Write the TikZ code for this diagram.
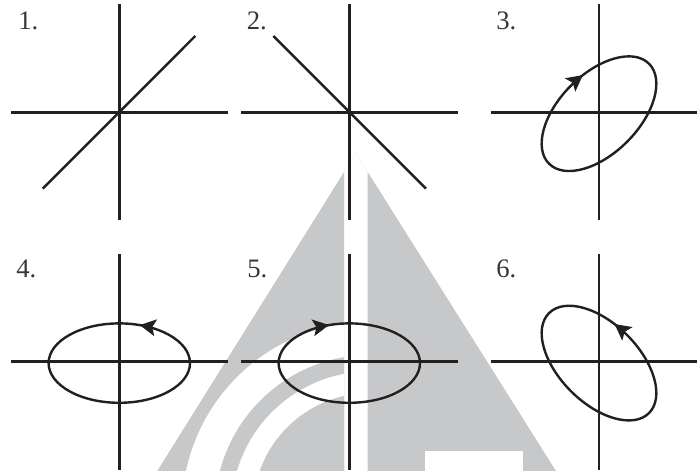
\documentclass[tikz,border=0pt]{standalone}
\usepackage{fontspec}
\setmainfont{Liberation Serif}
\usetikzlibrary{
  arrows.meta,
  decorations.markings
}
\definecolor{ink}{RGB}{35,31,32}
\definecolor{backdrop}{RGB}{199,200,202}

\begin{document}
\begin{tikzpicture}[
  x=0.75pt, y=0.75pt,
  every node/.style={font=\fontsize{20}{20}\selectfont, text=ink!90, inner sep=0pt},
  panellabel/.style={anchor=base west},
  axisline/.style={draw=ink, line width=1.9pt},
  diagline/.style={draw=ink, line width=1.8pt},
  orbit/.style={draw=ink, line width=1.8pt,
    decoration={markings, mark=at position #1 with
      {\arrow{Stealth[length=12pt, width=12.5pt, inset=2.5pt]}}},
    postaction={decorate}}
]

\useasboundingbox (0,0) rectangle (697,471);
\clip (0,0) rectangle (697,471);

% backdrop
\fill[backdrop] (344,299) -- (157.3,0) -- (344,0) -- cycle;
\fill[backdrop] (367.7,299) -- (556,0) -- (367.7,0) -- cycle;
\draw[backdrop!30, line width=0.3pt] (344,299) -- (355.7,318) -- (367.7,299);
\begin{scope}
  \clip (344,299) -- (157.3,0) -- (344,0) -- cycle;
  \fill[white] (370,-39) circle (188);
  \fill[backdrop] (370,-39) circle (155);
  \fill[white] (370,-39) circle (138.5);
  \fill[backdrop] (370,-39) circle (117);
\end{scope}
\fill[white] (425,0) rectangle (523,20);

% axes
\foreach \cx/\cy in {119.3/358.7, 349.3/358.7, 599/358.7, 119.3/109.3, 349.3/109.3, 599/109.3}
  \draw[axisline] (\cx-108.3,\cy) -- (\cx+108.3,\cy)
                  (\cx,\cy-108) -- (\cx,\cy+108);

\draw[diagline] (42.7,282.3) -- (195.3,435);
\draw[diagline] (273.3,435) -- (426,282.3);

\draw[orbit=.295, shift={(599,357.3)}, rotate=45]
  (-70.7,0) arc[start angle=180, end angle=-180, x radius=70.7, y radius=39.7];
\draw[orbit=.192, shift={(119.3,107.9)}]
  (70.7,0) arc[start angle=0, end angle=360, x radius=70.7, y radius=39.7];
\draw[orbit=.192, shift={(349.3,107.9)}]
  (-70.7,0) arc[start angle=180, end angle=-180, x radius=70.7, y radius=39.7];
\draw[orbit=.297, shift={(599,107.9)}, rotate=-45]
  (70.7,0) arc[start angle=0, end angle=360, x radius=70.7, y radius=39.7];

\node[panellabel] (one) at (18,441.7) {1.};
\node[panellabel] (two) at (246.5,441.7) {2.};
\node[panellabel] (three) at (496,441.7) {3.};
\node[panellabel] (four) at (16,193) {4.};
\node[panellabel] (five) at (247,193) {5.};
\node[panellabel] (six) at (496,193) {6.};

\end{tikzpicture}
\end{document}
